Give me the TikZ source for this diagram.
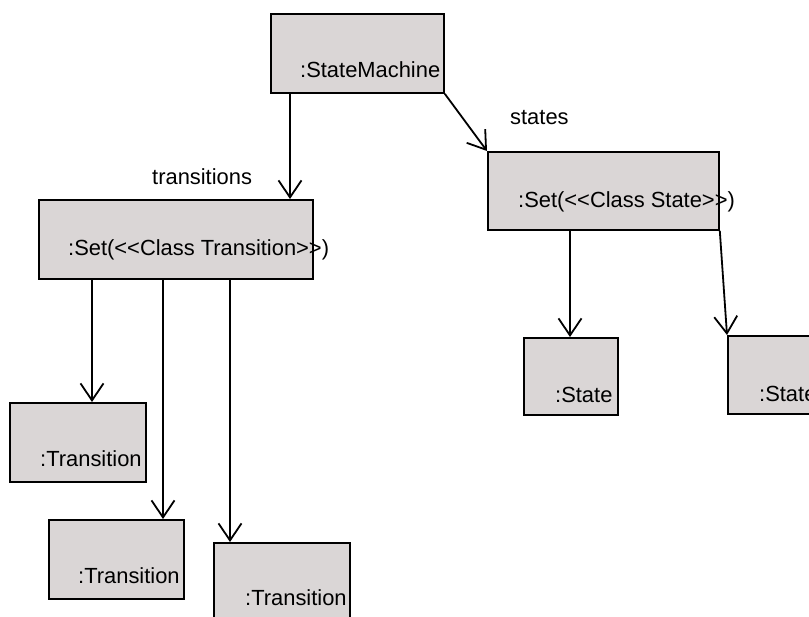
\documentclass[tikz,border=0pt]{standalone}
\usepackage{fontspec}
\setmainfont{Liberation Sans}
\usepackage{xcolor}
\usetikzlibrary{arrows.meta, positioning}
\definecolor{objfill}{RGB}{218,214,214}

\begin{document}
\begin{tikzpicture}[
    x=1pt, y=-1pt,
    obj/.style={rectangle, draw=black, fill=objfill, line width=1.8pt, anchor=north west, inner sep=0pt},
    objtext/.style={anchor=base west, inner sep=0pt, font=\fontsize{21.9}{26}\selectfont},
    role/.style={anchor=base west, inner sep=0pt, font=\fontsize{21.9}{26}\selectfont},
    arrow/.style={-{Straight Barb[length=17pt, width=23pt]}, line width=1.8pt}
]
    \useasboundingbox (0,0) rectangle (809,617);
    \clip (0,0) rectangle (809,617);

    % object boxes
    \node[obj, minimum width=173pt, minimum height=79pt] (sm) at (270,13) {};
    \node[obj, minimum width=274pt, minimum height=79pt] (settr) at (38,199) {};
    \node[obj, minimum width=231pt, minimum height=78pt] (setst) at (487,151) {};
    \node[obj, minimum width=94pt, minimum height=77pt] (st1) at (523,337) {};
    \node[obj, minimum width=120pt, minimum height=78pt] (st2) at (727,335) {};
    \node[obj, minimum width=136pt, minimum height=79pt] (tr1) at (9,402) {};
    \node[obj, minimum width=135pt, minimum height=79pt] (tr2) at (48,519) {};
    \node[obj, minimum width=136pt, minimum height=90pt] (tr3) at (213,542) {};

    % object names
    \node[objtext] (smname) at (300,78) {:StateMachine};
    \node[objtext] (settrname) at (68,256) {:Set(<{}<Class Transition>{}>)};
    \node[objtext] (setstname) at (518,208) {:Set(<{}<Class State>{}>)};
    \node[objtext] (st1name) at (555,403) {:State};
    \node[objtext] (st2name) at (759,402) {:State};
    \node[objtext] (tr1name) at (40,467) {:Transition};
    \node[objtext] (tr2name) at (78,583) {:Transition};
    \node[objtext] (tr3name) at (245,605) {:Transition};

    % role names
    \node[role] (transitions) at (152,185) {transitions};
    \node[role] (states) at (510,125) {states};

    % links
    \draw[arrow] ([xshift=20pt]sm.south west) -- ([xshift=252pt]settr.north west);
    \draw[arrow] (sm.south east) -- (setst.north west);
    \draw[arrow] ([xshift=54pt]settr.south west) -- ([xshift=83pt]tr1.north west);
    \draw[arrow] ([xshift=125pt]settr.south west) -- ([xshift=115pt]tr2.north west);
    \draw[arrow] ([xshift=192pt]settr.south west) -- ([xshift=17pt]tr3.north west);
    \draw[arrow] ([xshift=83pt]setst.south west) -- ([xshift=47pt]st1.north west);
    \draw[arrow] (setst.south east) -- (st2.north west);
\end{tikzpicture}
\end{document}
